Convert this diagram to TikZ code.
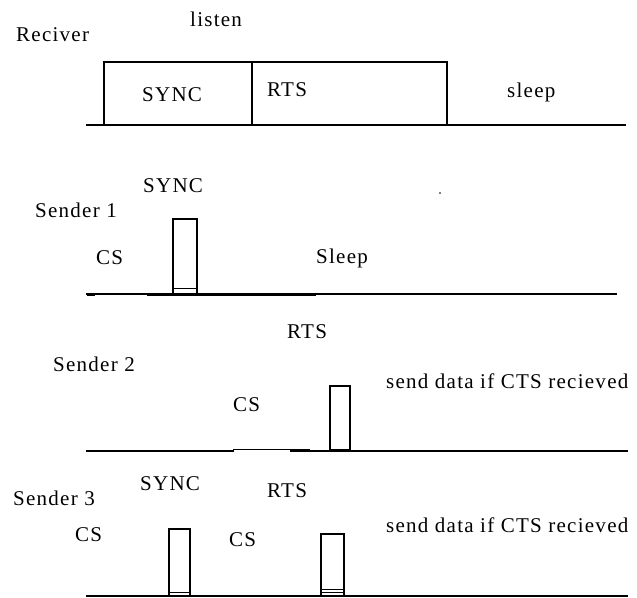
\documentclass[tikz,border=0pt]{standalone}
\usepackage{fontspec}
\setmainfont{Liberation Serif}[LetterSpace=6]
\begin{document}
\begin{tikzpicture}[x=1pt,y=-1pt,
  lbl/.style={anchor=base west,inner sep=0pt,font=\fontsize{21}{21}\selectfont},
  ln/.style={line width=1.3pt,line cap=rect},
  thick seg/.style={line width=2.6pt},
  bar/.style={line width=1.2pt}]
\useasboundingbox (0,0) rectangle (637,597);
% Receiver
\node[lbl] (listen) at (190,26) {listen};
\node[lbl] (rec) at (16,41) {Reciver};
\draw[ln] (87,125) -- (625,125);
\draw[bar] (104,125) -- (104,62) -- (447,62) -- (447,125);
\draw[bar] (252,62) -- (252,125);
\node[lbl] (rsync) at (142,101) {SYNC};
\node[lbl] (rrts) at (267,96) {RTS};
\node[lbl] (rsleep) at (507,97) {sleep};
% Sender 1
\node[lbl] (s1sync) at (143,192) {SYNC};
\node[lbl] (s1) at (35,217) {Sender 1};
\node[lbl] (s1cs) at (96,264) {CS};
\node[lbl] (s1sleep) at (316,263) {Sleep};
\fill (440,193) circle (0.9);
\draw[ln] (87,294) -- (616,294);
\draw[thick seg] (147,294.5) -- (316,294.5);
\draw[thick seg] (87,294.5) -- (95,294.5);
\draw[bar] (173,294) -- (173,219) -- (197,219) -- (197,294);
\draw[line width=0.8pt] (173,288) -- (197,288);
% Sender 2
\node[lbl] (s2rts) at (287,338) {RTS};
\node[lbl] (s2) at (53,371) {Sender 2};
\node[lbl] (s2cs) at (233,411) {CS};
\node[lbl] (s2data) at (386,388) {send data if CTS recieved};
\draw[ln] (87,451) -- (233,451);
\draw[line width=1pt] (233,449.5) -- (310,449.5);
\draw[thick seg] (290,450.5) -- (310,450.5);
\draw[ln] (310,451) -- (627,451);
\draw[bar] (330,451) -- (330,386) -- (350,386) -- (350,451);
\draw[thick seg] (330,450) -- (350,450);
% Sender 3
\node[lbl] (s3sync) at (140,490) {SYNC};
\node[lbl] (s3) at (13,505) {Sender 3};
\node[lbl] (s3rts) at (267,497) {RTS};
\node[lbl] (s3cs1) at (75,541) {CS};
\node[lbl] (s3cs2) at (229,546) {CS};
\node[lbl] (s3data) at (386,532) {send data if CTS recieved};
\draw[ln] (87,596) -- (627,596);
\draw[bar] (169,596) -- (169,529) -- (190,529) -- (190,596);
\draw[line width=0.8pt] (169,592.5) -- (190,592.5);
\draw[bar] (321,596) -- (321,534) -- (344,534) -- (344,596);
\draw[line width=0.8pt] (321,589.5) -- (344,589.5);
\draw[line width=0.8pt] (321,592.5) -- (344,592.5);
\end{tikzpicture}
\end{document}
